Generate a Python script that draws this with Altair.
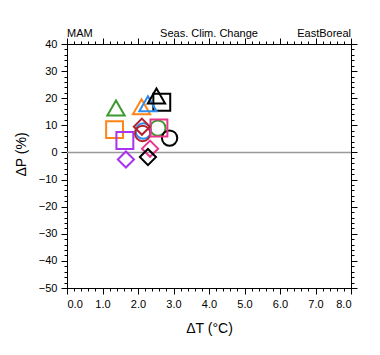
import altair as alt
import pandas as pd

# ---- data ----
dT = [1.38, 2.10, 2.28, 2.52, 2.67, 1.34, 1.63, 2.59, 2.56, 2.89, 2.15, 2.13, 2.11, 2.34, 2.28, 1.66]
dP = [16.4, 16.9, 18.0, 20.8, 18.5, 8.4, 4.4, 9.0, 9.0, 5.3, 7.9, 7.0, 9.5, 1.4, -1.7, -2.6]
shapes = ["triangle-up", "triangle-up", "triangle-up", "triangle-up",
          "square", "square", "square", "square",
          "circle", "circle", "circle", "circle",
          "diamond", "diamond", "diamond", "diamond"]
groups = ["green", "orange", "blue", "black",
          "black", "orange", "purple", "pink",
          "green", "black", "blue", "red",
          "red", "pink", "black", "purple"]

group_names = ["green", "orange", "blue", "black", "purple", "pink", "red"]
group_colors = ["#3a9a2e", "#ff8517", "#2d8ef0", "#000000", "#a834ef", "#e8358c", "#b2222e"]

x_major = [0, 1, 2, 3, 4, 5, 6, 7, 8]
x_minor = [round(i * 0.2, 1) for i in range(41)]
y_major = [-50, -40, -30, -20, -10, 0, 10, 20, 30, 40]
y_minor = list(range(-50, 41, 2))

FONT = "Liberation Sans"

df = pd.DataFrame({"dT": dT, "dP": dP, "shape": shapes, "group": groups})

xs = alt.Scale(domain=[0, 8], nice=False, zero=False)
ys = alt.Scale(domain=[-50, 40], nice=False, zero=False)
cs = alt.Scale(domain=group_names, range=group_colors)


def ax(orient, values, size, labels=False, domain=False, fmt=None, title=None, **kw):
    args = dict(orient=orient, values=values, tickSize=size, labels=labels,
                domain=domain, grid=False, tickColor="black", tickWidth=1,
                domainColor="black", domainWidth=1, title=title,
                labelFont=FONT, labelFontSize=11, labelColor="black",
                titleFont=FONT, titleFontSize=14, titleFontWeight="normal",
                titleColor="black")
    if fmt:
        args["format"] = fmt
    args.update(kw)
    return alt.Axis(**args)


base = alt.Chart(df)


def axis_layer(xaxis, yaxis):
    return base.mark_point(opacity=0).encode(
        x=alt.X("dT:Q", scale=xs, axis=xaxis),
        y=alt.Y("dP:Q", scale=ys, axis=yaxis),
    )


layers = [
    axis_layer(
        ax("bottom", x_major, 6, labels=True, domain=True, fmt=".1f",
           title="ΔT (°C)", labelPadding=4, titleY=40, titleBaseline="middle"),
        ax("left", y_major, 6, labels=True, domain=True, fmt="d",
           title="ΔP (%)", labelPadding=4, titleX=-46, titleY=110,
           titleBaseline="middle", titleAngle=270),
    ),
    axis_layer(ax("bottom", x_minor, 3), ax("left", y_minor, 3)),
    axis_layer(ax("top", x_major, 6, domain=True), ax("right", y_major, 6, domain=True)),
    axis_layer(ax("top", x_minor, 3), ax("right", y_minor, 3)),
]

zero = alt.Chart(pd.DataFrame({"y": [0]})).mark_rule(color="#999999", strokeWidth=1.5).encode(
    y=alt.Y("y:Q", scale=ys, axis=None)
)
layers.append(zero)

sizes = {"triangle-up": 300, "square": 285, "circle": 235, "diamond": 260}
for shp in ["circle", "square", "triangle-up", "diamond"]:
    layers.append(
        base.transform_filter(alt.datum.shape == shp)
        .mark_point(shape=shp, size=sizes[shp], filled=False, strokeWidth=2, opacity=1)
        .encode(
            x=alt.X("dT:Q", scale=xs, axis=None),
            y=alt.Y("dP:Q", scale=ys, axis=None),
            color=alt.Color("group:N", scale=cs, legend=None),
        )
    )

titles = pd.DataFrame({"x": [0, 4, 8], "y": [40, 40, 40],
                       "t": ["MAM", "Seas. Clim. Change", "EastBoreal"]})
for i, al in enumerate(["left", "center", "right"]):
    layers.append(
        alt.Chart(titles.iloc[[i]]).mark_text(
            align=al, baseline="alphabetic", dy=-7, font=FONT, fontSize=11, color="black"
        ).encode(
            x=alt.X("x:Q", scale=xs, axis=None),
            y=alt.Y("y:Q", scale=ys, axis=None),
            text="t:N",
        )
    )

chart = alt.layer(*layers).resolve_axis(x="independent", y="independent").properties(
    width=284, height=244,
    autosize=alt.AutoSizeParams(type="none"),
    padding={"left": 67, "top": 44, "right": 29, "bottom": 67},
    background="white",
).configure_view(stroke=None)

chart.save("out.html", embed_options={"renderer": "svg", "actions": False})
